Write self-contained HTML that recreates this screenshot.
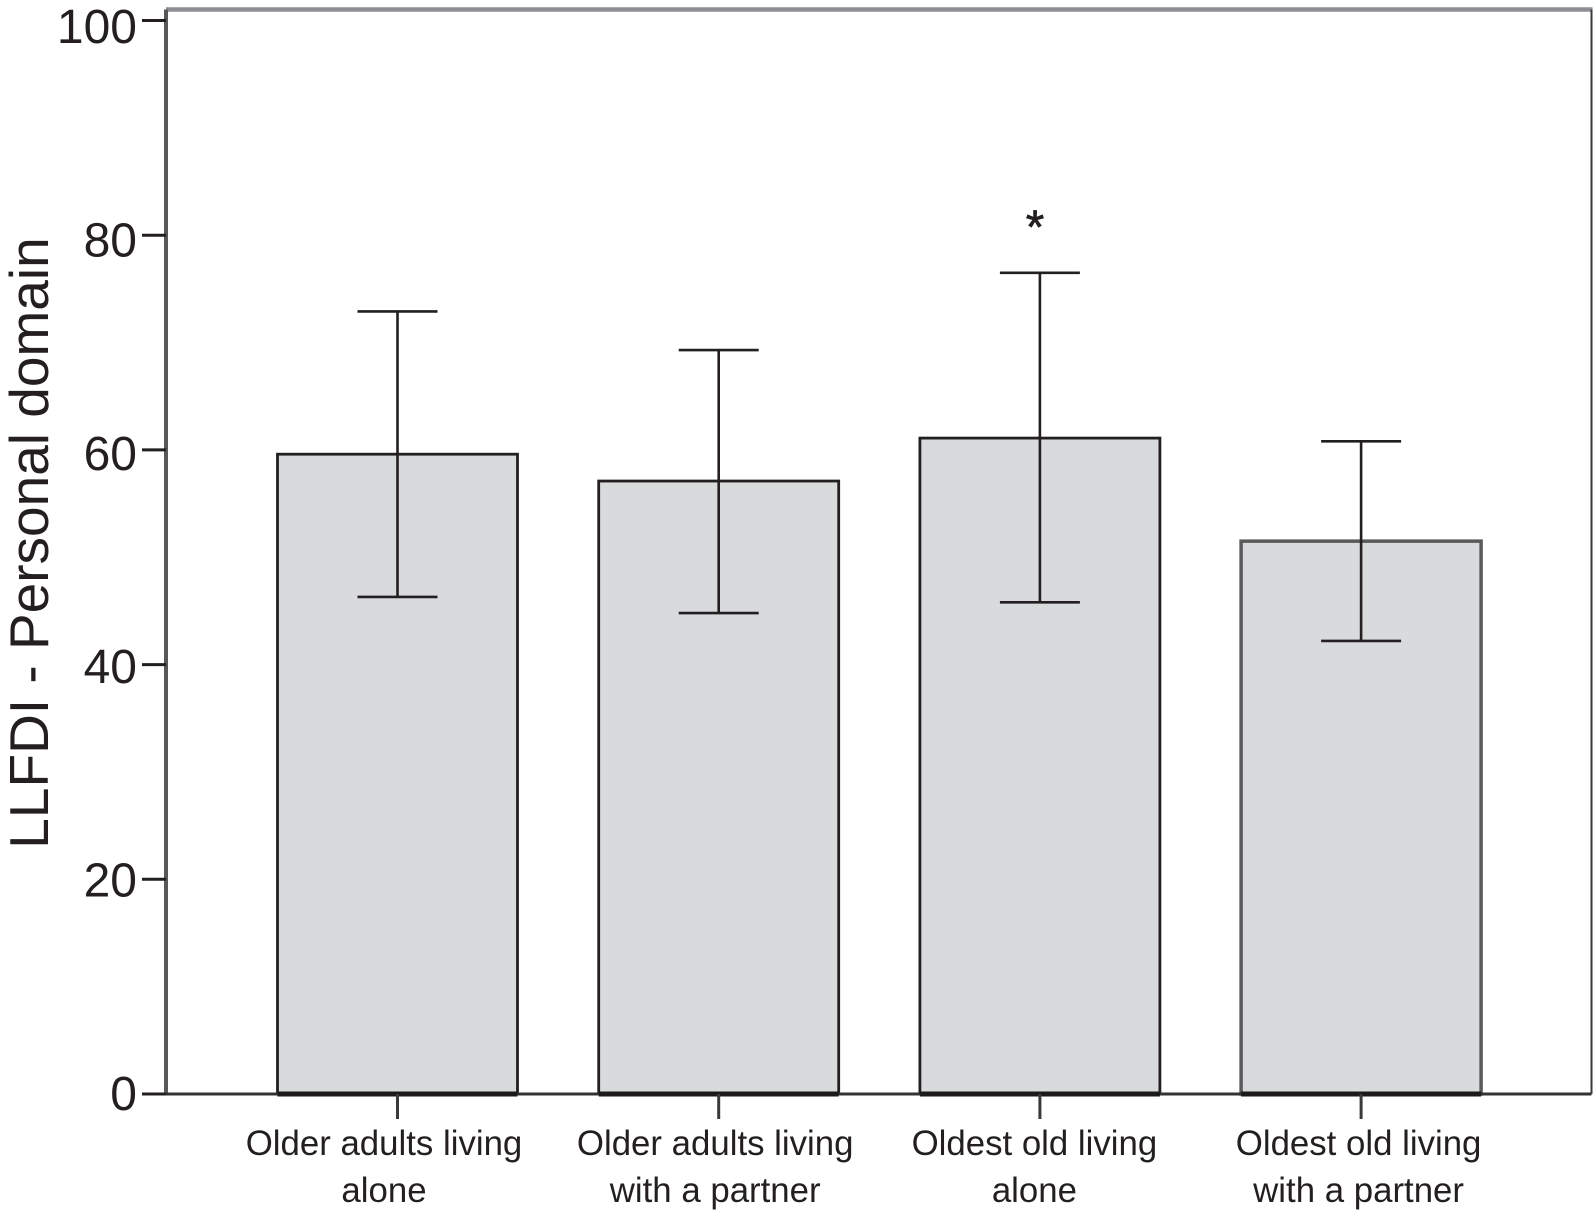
<!DOCTYPE html>
<html lang="en">
<head>
<meta charset="utf-8">
<title>LLFDI Personal domain</title>
<style>
html,body{margin:0;padding:0;background:#fff;}
svg{display:block;}
text{font-family:"Liberation Sans",Arial,sans-serif;fill:#231f20;}
</style>
</head>
<body>
<svg id="chart" width="1596" height="1210" viewBox="0 0 1596 1210" xmlns="http://www.w3.org/2000/svg">
  <rect x="0" y="0" width="1596" height="1210" fill="#fff"/>
  <text transform="translate(48,543) rotate(-90)" text-anchor="middle" font-size="55">LLFDI - Personal domain</text>
  <text x="1035" y="243" text-anchor="middle" font-size="47" stroke="#231f20" stroke-width="0.8">*</text>
</svg>
<script>
var categoryLine1 = ['Older adults living', 'Older adults living', 'Oldest old living', 'Oldest old living'];
var categoryLine2 = ['alone', 'with a partner', 'alone', 'with a partner'];
var means = [59.6, 57.1, 61.1, 51.5];
var errorUpper = [72.9, 69.3, 76.5, 60.8];
var errorLower = [46.3, 44.8, 45.8, 42.2];
var yTickValues = [0, 20, 40, 60, 80, 100];

var svg = document.getElementById('chart');
var NS = 'http://www.w3.org/2000/svg';
function yScale(v) { return 1094 - v * 10.735; }
function xScale(i) { return 397.5 + i * 321.2; }
function yLabelScale(v) { return 1110 - v * 10.67; }
function xLabelScale(i) { return xScale(i) - (i === 0 ? 13.5 : i === 1 ? 3.5 : i === 2 ? 5.5 : 2.5); }

function add(tag, attrs, parent) {
  var el = document.createElementNS(NS, tag);
  for (var k in attrs) el.setAttribute(k, attrs[k]);
  (parent || svg).appendChild(el);
  return el;
}
var plotLeft = 166, plotRight = 1591.5, plotTop = 9.5;
var barHalf = 120, capHalf = 40;

// bars
means.forEach(function (m, i) {
  var b = add('rect', {x: xScale(i) - barHalf, y: yScale(m), width: barHalf * 2, height: yScale(0) - yScale(m), fill: '#d9dadc', stroke: i === 3 ? '#5a5a5c' : '#231f20', 'stroke-width': i === 3 ? 3.5 : 2.8});
  
  
});

// frame
var top_ = add('line', {x1: plotLeft, x2: plotRight + 1, y1: plotTop, y2: plotTop, stroke: '#8e8f93', 'stroke-width': 4.5});


var right_ = add('line', {x1: plotRight, x2: plotRight, y1: plotTop, y2: yScale(0), stroke: '#3a3a3c', 'stroke-width': 2});


var yAxis = add('line', {x1: plotLeft, x2: plotLeft, y1: plotTop, y2: yScale(0), stroke: '#58585a', 'stroke-width': 4});


var xAxis = add('line', {x1: plotLeft, x2: plotRight, y1: yScale(0), y2: yScale(0), stroke: '#333335', 'stroke-width': 3});



// y ticks and labels
yTickValues.forEach(function (v) {
  var t = add('line', {x1: 142, x2: plotLeft, y1: yScale(v), y2: yScale(v), stroke: '#231f20', 'stroke-width': 3});
  
  
  var l = add('text', {x: 137, y: yLabelScale(v), 'text-anchor': 'end', 'font-size': 48});
  l.textContent = String(v);
  
  
});

// error bars, x ticks and labels
means.forEach(function (m, i) {
  var x = xScale(i);
  var stem = add('line', {x1: x, x2: x, y1: yScale(errorUpper[i]), y2: yScale(errorLower[i]), stroke: '#231f20', 'stroke-width': 2.6});
  
  
  var capU = add('line', {x1: x - capHalf, x2: x + capHalf, y1: yScale(errorUpper[i]), y2: yScale(errorUpper[i]), stroke: '#231f20', 'stroke-width': 2.6});
  
  
  var capL = add('line', {x1: x - capHalf, x2: x + capHalf, y1: yScale(errorLower[i]), y2: yScale(errorLower[i]), stroke: '#231f20', 'stroke-width': 2.6});
  
  
  var base = add('line', {x1: x - barHalf, x2: x + barHalf, y1: yScale(0), y2: yScale(0), stroke: '#1c1a1b', 'stroke-width': 5});
  
  
  var tick = add('line', {x1: x, x2: x, y1: yScale(0), y2: yScale(0) + 25, stroke: '#3a3a3c', 'stroke-width': 3});
  
  
  var a = add('text', {x: xLabelScale(i), y: 1155, 'text-anchor': 'middle', 'font-size': 34.8});
  a.textContent = categoryLine1[i];
  
  
  var c = add('text', {x: xLabelScale(i), y: 1202, 'text-anchor': 'middle', 'font-size': 34.8});
  c.textContent = categoryLine2[i];
  
  
});
</script>
</body>
</html>
